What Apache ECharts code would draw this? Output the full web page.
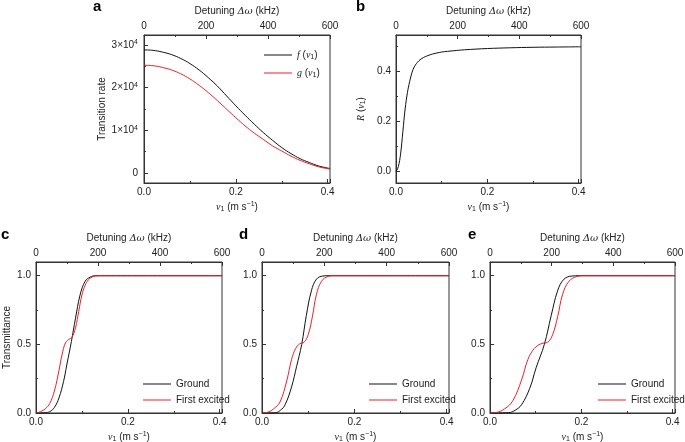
<!DOCTYPE html>
<html>
<head>
<meta charset="utf-8">
<script src="https://cdn.jsdelivr.net/npm/echarts@6/dist/echarts.min.js"></script>
<style>
  html, body { margin: 0; padding: 0; background: #fff; }
  #chart { width: 685px; height: 442px; }
</style>
</head>
<body>
<div id="chart"></div>
<script>
// ---- data ----
// panel a: transition rates vs v1 (m/s)
const vA = [0, 0.02, 0.04, 0.06, 0.08, 0.10, 0.12, 0.14, 0.16, 0.18, 0.20, 0.22, 0.24, 0.26, 0.28, 0.30, 0.32, 0.34, 0.36, 0.38, 0.40, 0.405];
const fA = [28800, 28700, 28300, 27700, 26800, 25600, 24100, 22300, 20300, 18000, 15700, 13500, 11400, 9400, 7600, 5900, 4500, 3300, 2400, 1600, 1100, 1000];
const gA = [25200, 25100, 24700, 24100, 23200, 22000, 20500, 18800, 16900, 14900, 12900, 11000, 9300, 7800, 6300, 5100, 3900, 2900, 2100, 1400, 950, 850];

// panel b: ratio R(v1)
const vB = [0, 0.005, 0.01, 0.015, 0.02, 0.025, 0.03, 0.035, 0.04, 0.05, 0.06, 0.07, 0.08, 0.10, 0.125, 0.15, 0.20, 0.25, 0.30, 0.35, 0.405];
const rB = [0, 0.02, 0.07, 0.16, 0.25, 0.315, 0.36, 0.395, 0.418, 0.442, 0.455, 0.463, 0.469, 0.477, 0.482, 0.486, 0.491, 0.494, 0.496, 0.497, 0.498];

// panels c, d, e: transmittance, ground and first excited state
const vCg = [0, 0.02, 0.03, 0.04, 0.05, 0.06, 0.067, 0.077, 0.086, 0.096, 0.107, 0.118, 0.13, 0.405];
const tCg = [0, 0.002, 0.01, 0.04, 0.11, 0.23, 0.35, 0.52, 0.69, 0.86, 0.96, 0.99, 1.0, 1.0];
const vCe = [0, 0.01, 0.02, 0.03, 0.04, 0.05, 0.057, 0.064, 0.071, 0.078, 0.086, 0.093, 0.10, 0.107, 0.114, 0.122, 0.13, 0.14, 0.405];
const tCe = [0, 0.01, 0.03, 0.07, 0.16, 0.31, 0.43, 0.51, 0.535, 0.55, 0.62, 0.74, 0.86, 0.93, 0.97, 0.99, 0.998, 1.0, 1.0];

const vDg = [0, 0.029, 0.04, 0.05, 0.064, 0.075, 0.086, 0.096, 0.107, 0.118, 0.132, 0.145, 0.405];
const tDg = [0, 0.002, 0.02, 0.06, 0.19, 0.34, 0.50, 0.71, 0.89, 0.975, 0.998, 1.0, 1.0];
const vDe = [0, 0.011, 0.025, 0.039, 0.054, 0.064, 0.073, 0.082, 0.091, 0.10, 0.109, 0.118, 0.129, 0.143, 0.155, 0.405];
const tDe = [0, 0.004, 0.03, 0.08, 0.24, 0.39, 0.47, 0.505, 0.515, 0.57, 0.70, 0.865, 0.96, 0.995, 1.0, 1.0];

const vEg = [0, 0.04, 0.055, 0.069, 0.087, 0.101, 0.119, 0.134, 0.148, 0.162, 0.18, 0.195, 0.405];
const tEg = [0, 0.002, 0.02, 0.06, 0.18, 0.33, 0.50, 0.71, 0.89, 0.975, 0.998, 1.0, 1.0];
const vEe = [0, 0.014, 0.032, 0.05, 0.069, 0.083, 0.097, 0.112, 0.126, 0.137, 0.148, 0.159, 0.173, 0.191, 0.205, 0.405];
const tEe = [0, 0.004, 0.03, 0.09, 0.24, 0.39, 0.47, 0.505, 0.515, 0.57, 0.70, 0.865, 0.96, 0.995, 1.0, 1.0];

const vTicks = [0, 0.2, 0.4];
const kHzTicks = [0, 200, 400, 600];

// ---- styling ----
const FONT = 'Liberation Sans, Arial, sans-serif';
const TXT = '#222';
const FRAME = '#333';
const BLACK = '#111';
const RED = '#e8202a';

const rich = {
  n: { fontSize: 10, fontFamily: FONT, color: TXT },
  i: { fontSize: 10, fontFamily: 'Liberation Serif, serif', fontStyle: 'italic', color: TXT },
  sub: { fontSize: 7, fontFamily: FONT, color: TXT, verticalAlign: 'bottom', padding: [5, 0, 0, 0] },
  sup: { fontSize: 7, fontFamily: FONT, color: TXT, verticalAlign: 'top', padding: [0, 0, 5, 0] }
};

const grids = [
  { left: 144, top: 35, width: 186, height: 148 },
  { left: 396, top: 35, width: 185, height: 148 },
  { left: 36, top: 262, width: 186, height: 151 },
  { left: 262, top: 262, width: 187, height: 151 },
  { left: 490, top: 262, width: 185, height: 151 }
].map(g => ({ ...g, show: true, borderColor: FRAME, borderWidth: 1, backgroundColor: 'transparent', containLabel: false, outerBoundsMode: 'none' }));

const isTick = (v, list) => list.some(t => Math.abs(v - t) < 1e-9);

function bottomAxis(i) {
  return {
    type: 'value', gridIndex: i, position: 'bottom', min: 0, max: 0.405, interval: 0.2,
    axisLine: { show: true, onZero: false, lineStyle: { color: FRAME, width: 1 } },
    axisTick: { show: true, inside: true, length: 4, lineStyle: { color: FRAME } },
    minorTick: { show: true, splitNumber: 2, length: 2, lineStyle: { color: FRAME } },
    splitLine: { show: false },
    axisLabel: { margin: 4, fontSize: 10, fontFamily: FONT, color: TXT,
      formatter: v => isTick(v, vTicks) ? v.toFixed(1) : '' },
    name: '{i|v}{sub|1}{n| (m s}{sup|−1}{n|)}',
    nameLocation: 'middle', nameGap: 18,
    nameTextStyle: { rich }
  };
}

function topAxis(i) {
  return {
    type: 'value', gridIndex: i, position: 'top', min: 0, max: 600, interval: 200,
    axisLine: { show: true, onZero: false, lineStyle: { color: FRAME, width: 1 } },
    axisTick: { show: true, inside: true, length: 4, lineStyle: { color: FRAME } },
    minorTick: { show: true, splitNumber: 2, length: 2, lineStyle: { color: FRAME } },
    splitLine: { show: false },
    axisLabel: { margin: 4, fontSize: 10, fontFamily: FONT, color: TXT,
      formatter: v => isTick(v, kHzTicks) ? String(v) : '' },
    name: '{n|Detuning }{d|Δω}{n| (kHz)}',
    nameLocation: 'middle', nameGap: 19,
    nameTextStyle: { rich: { ...rich, d: { fontSize: 10, fontFamily: 'DejaVu Serif, serif', fontStyle: 'italic', color: TXT } } }
  };
}

function leftAxis(i, extra) {
  return {
    type: 'value', gridIndex: i, position: 'left',
    axisLine: { show: true, onZero: false, lineStyle: { color: FRAME, width: 1 } },
    axisTick: { show: true, inside: true, length: 4, lineStyle: { color: FRAME } },
    minorTick: { show: true, splitNumber: 2, length: 2, lineStyle: { color: FRAME } },
    splitLine: { show: false },
    nameLocation: 'middle',
    nameTextStyle: { rich, fontSize: 10, fontFamily: FONT, color: TXT },
    ...extra,
    axisLabel: { margin: 5, fontSize: 10, fontFamily: FONT, color: TXT, rich, ...extra.axisLabel }
  };
}

const xAxes = [];
for (let i = 0; i < 5; i++) { xAxes.push(bottomAxis(i)); xAxes.push(topAxis(i)); }

const rateTicks = [0, 10000, 20000, 30000];
const yAxes = [
  leftAxis(0, { min: -2400, max: 32300, minInterval: 10000, maxInterval: 10000,
    name: 'Transition rate', nameGap: 35,
    axisLabel: { margin: 6, formatter: v => v === 0 ? '0' : (isTick(v, rateTicks) ? (v / 10000) + '×10{sup|4}' : '') } }),
  leftAxis(1, { min: -0.045, max: 0.545, minInterval: 0.2, maxInterval: 0.2,
    name: '{i|R} ({i|v}{sub|1})', nameGap: 29,
    axisLabel: { formatter: v => isTick(v, [0, 0.2, 0.4]) ? v.toFixed(1) : '' } }),
  leftAxis(2, { min: 0, max: 1.1, interval: 0.5, name: 'Transmittance', nameGap: 24,
    axisLabel: { formatter: v => isTick(v, [0, 0.5, 1]) ? v.toFixed(1) : '' } }),
  leftAxis(3, { min: 0, max: 1.1, interval: 0.5,
    axisLabel: { formatter: v => isTick(v, [0, 0.5, 1]) ? v.toFixed(1) : '' } }),
  leftAxis(4, { min: 0, max: 1.1, interval: 0.5,
    axisLabel: { formatter: v => isTick(v, [0, 0.5, 1]) ? v.toFixed(1) : '' } })
];

const zip = (xs, ys) => xs.map((x, k) => [x, ys[k]]);

function line(name, panel, xs, ys, color) {
  return {
    type: 'line', name, xAxisIndex: panel * 2, yAxisIndex: panel,
    data: zip(xs, ys), symbol: 'none', showSymbol: false, smooth: 0.4,
    lineStyle: { color, width: 1 }, itemStyle: { color },
    silent: true, animation: false
  };
}

const series = [
  line('f', 0, vA, fA, BLACK),
  line('g', 0, vA, gA, RED),
  line('R', 1, vB, rB, BLACK),
  line('Ground', 2, vCg, tCg, BLACK),
  line('First excited', 2, vCe, tCe, RED),
  line('Ground', 3, vDg, tDg, BLACK),
  line('First excited', 3, vDe, tDe, RED),
  line('Ground', 4, vEg, tEg, BLACK),
  line('First excited', 4, vEe, tEe, RED)
];

function tLegend(left, top) {
  return {
    left, top, orient: 'vertical', icon: 'rect', itemWidth: 28, itemHeight: 1, itemGap: 6,
    data: ['Ground', 'First excited'], selectedMode: false,
    textStyle: { fontSize: 10, fontFamily: FONT, color: TXT }
  };
}

const legends = [
  {
    left: 259, top: 45, orient: 'vertical', icon: 'rect', itemWidth: 28, itemHeight: 1, itemGap: 7,
    data: ['f', 'g'], selectedMode: false,
    formatter: name => '{i|' + name + '} ({i|v}{sub|1})',
    textStyle: { fontSize: 10, fontFamily: FONT, color: TXT, rich }
  },
  tLegend(138, 374),
  tLegend(364, 374),
  tLegend(593, 374)
];

const letters = [['a', 93, 7], ['b', 356, 7], ['c', 1, 235], ['d', 239, 235], ['e', 468, 235]];

const chart = echarts.init(document.getElementById('chart'), null, { renderer: 'canvas' });
chart.setOption({
  animation: false,
  backgroundColor: '#fff',
  grid: grids,
  xAxis: xAxes,
  yAxis: yAxes,
  legend: legends,
  series,
  graphic: letters.map(([t, x, y]) => ({
    type: 'text', left: x, top: y - 8,
    style: { text: t, fontSize: 15, fontWeight: 'bold', fontFamily: FONT, fill: '#000' }
  }))
});
</script>
</body>
</html>
